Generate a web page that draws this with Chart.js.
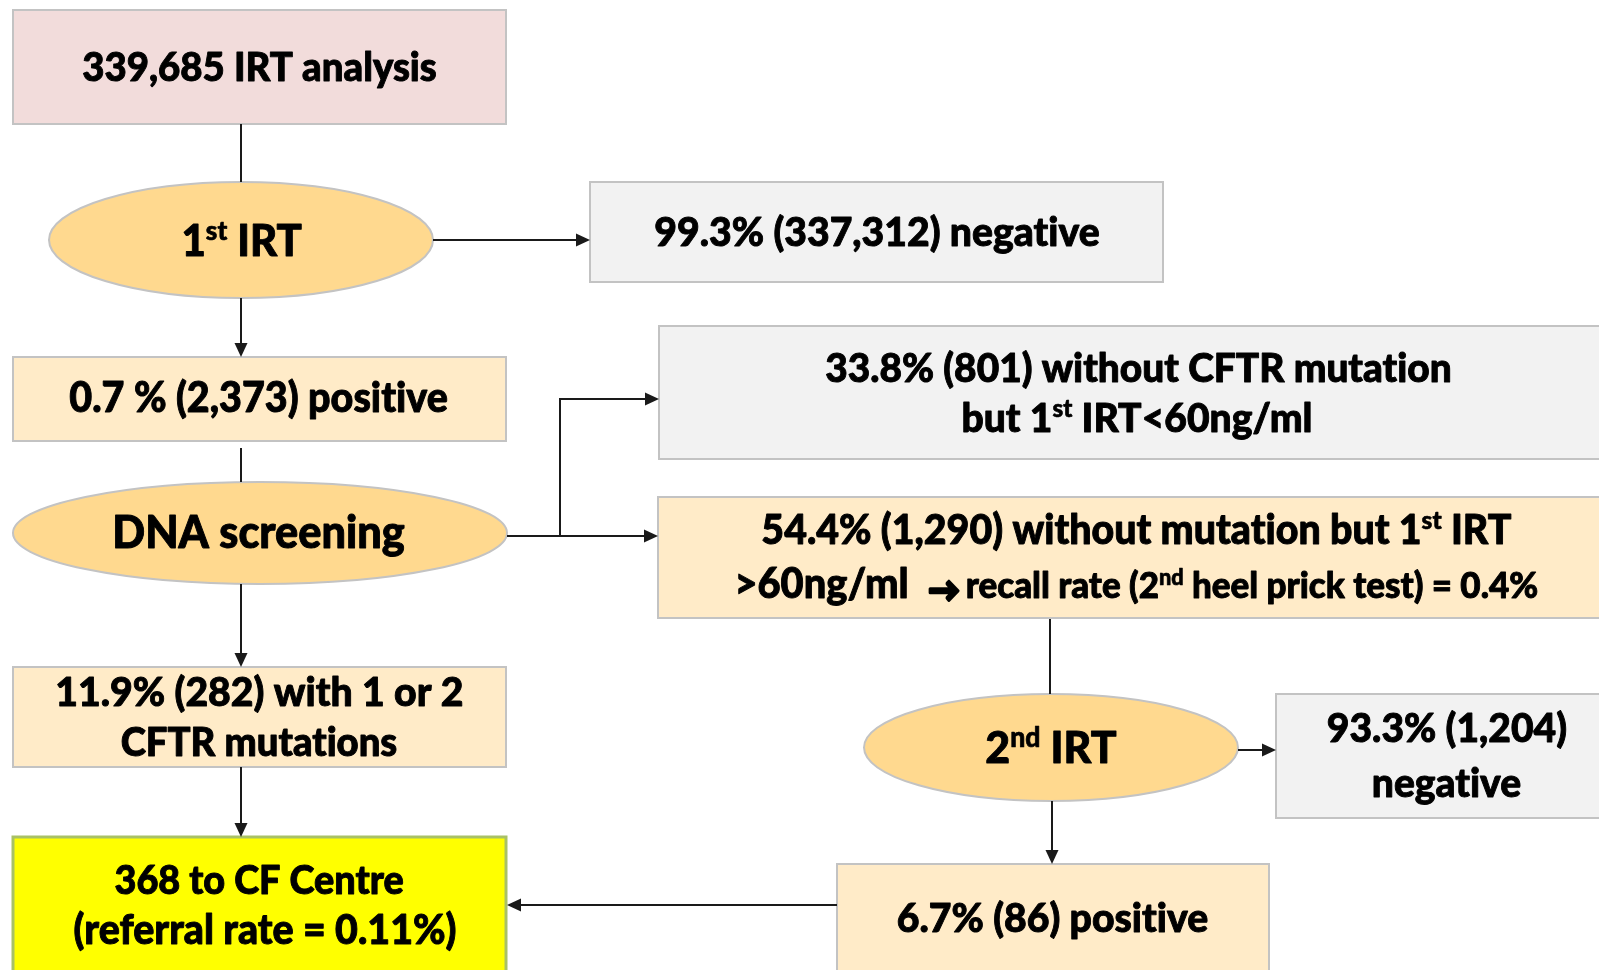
<!DOCTYPE html>
<html><head><meta charset="utf-8">
<script src="https://cdn.jsdelivr.net/npm/chart.js@4.4.1/dist/chart.umd.min.js"></script>
<style>html,body{margin:0;padding:0;background:#fff;overflow:hidden}#wrap{width:1599px;height:970px;position:relative}</style>
</head><body><div id="wrap"><canvas id="c"></canvas></div>
<script>
// ---------- data ----------
const screened = 339685;
const stageNames = ['1^st^ IRT', 'DNA screening', '2^nd^ IRT'];
const outcomePct = [99.3, 0.7, 33.8, 54.4, 11.9, 93.3, 6.7];
const outcomeN = [337312, 2373, 801, 1290, 282, 1204, 86];
const irtCutoff = 60;      // ng/ml
const recallRate = 0.4;    // %
const referred = 368;
const referralRate = 0.11; // %
const fmt = n => n.toLocaleString('en-US');

// text of each node (lines; ^..^ marks superscript)
const nodeText = [
  [`${fmt(screened)} IRT analysis`],
  [stageNames[0]],
  [`${outcomePct[0]}% (${fmt(outcomeN[0])}) negative`],
  [`${outcomePct[1]} % (${fmt(outcomeN[1])}) positive`],
  [stageNames[1]],
  [`${outcomePct[2]}% (${outcomeN[2]}) without CFTR mutation`, `but 1^st^ IRT<${irtCutoff}ng/ml`],
  [`${outcomePct[3]}% (${fmt(outcomeN[3])}) without mutation but 1^st^ IRT`, `>${irtCutoff}ng/ml`, '\u2192', `recall rate (2^nd^ heel prick test) = ${recallRate}%`],
  [`${outcomePct[4]}% (${outcomeN[4]}) with 1 or 2`, 'CFTR mutations'],
  [`${referred} to CF Centre`, `(referral rate = ${referralRate}%)`],
  [stageNames[2]],
  [`${outcomePct[5]}% (${fmt(outcomeN[5])})`, 'negative'],
  [`${outcomePct[6]}% (${outcomeN[6]}) positive`]
];

// ---------- layout (chart units) ----------
const C_PINK = '#F2DCDB', C_OVAL = '#FFD98F', C_PEACH = '#FFEBC8', C_GRAY = '#F2F2F2', C_YEL = '#FFFF00';
const layout = [
  {shape:'rect', x0:13, x1:506, y0:10, y1:124, fill:C_PINK, lines:[{cx:259.5, b:81, w:354}]},
  {shape:'oval', x0:49, x1:433, y0:182, y1:298, fill:C_OVAL, lines:[{cx:242.5, b:256, w:119}]},
  {shape:'rect', x0:590, x1:1163, y0:182, y1:282, fill:C_GRAY, lines:[{cx:877, b:246, w:445}]},
  {shape:'rect', x0:13, x1:506, y0:357, y1:441, fill:C_PEACH, lines:[{cx:258.5, b:411.7, w:379}]},
  {shape:'oval', x0:13, x1:507, y0:482, y1:584, fill:C_OVAL, lines:[{cx:260, b:548, w:290}]},
  {shape:'rect', x0:659, x1:1640, y0:326, y1:459, fill:C_GRAY, lines:[{cx:1138, b:381.7, w:625},{cx:1137, b:431.7, w:348}]},
  {shape:'rect', x0:658, x1:1640, y0:497, y1:618, fill:C_PEACH, lines:[{cx:1137, b:544, w:750},{cx:822.5, b:598, w:169},{cx:944, b:601, size:31, emb:3},{cx:1252.5, b:598, w:571}]},
  {shape:'rect', x0:13, x1:506, y0:667, y1:767, fill:C_PEACH, lines:[{cx:260, b:706, w:406},{cx:259, b:756, w:276}]},
  {shape:'rect', x0:13, x1:506, y0:837, y1:1010, fill:C_YEL, stroke:'#A9C165', lw:3, lines:[{cx:259.5, b:894, w:289},{cx:265, b:944, w:382}]},
  {shape:'oval', x0:864, x1:1238, y0:694, y1:801, fill:C_OVAL, lines:[{cx:1051.5, b:763, w:131}]},
  {shape:'rect', x0:1276, x1:1640, y0:694, y1:818, fill:C_GRAY, lines:[{cx:1447, b:741.7, w:239},{cx:1447, b:796.7, w:148}]},
  {shape:'rect', x0:837, x1:1269, y0:864, y1:1010, fill:C_PEACH, lines:[{cx:1052.5, b:931.7, w:311}]}
];
const edges = [
  {p:[[241,124],[241,182]], arrow:false},
  {p:[[433,240],[590,240]], arrow:true},
  {p:[[241,298],[241,357]], arrow:true},
  {p:[[241,448],[241,482]], arrow:false},
  {p:[[507,536],[560,536],[560,399],[659,399]], arrow:true},
  {p:[[507,536],[658,536]], arrow:true},
  {p:[[1050,619],[1050,694]], arrow:false},
  {p:[[1238,750],[1276,750]], arrow:true},
  {p:[[1052,801],[1052,864]], arrow:true},
  {p:[[837,905],[507,905]], arrow:true},
  {p:[[241,584],[241,667]], arrow:true},
  {p:[[241,767],[241,837]], arrow:true}
];

const FAMILY = 'Lato, "Open Sans", "DejaVu Sans", sans-serif';
const WEIGHT = 900;
const SUP = 0.62, RAISE = 0.36, VSTRETCH = 1.04, EMBOLDEN = 0.9;
const font = s => `${WEIGHT} ${s}px ${FAMILY}`;
const noLig = s => s.replace(/t(?=[ifl])/g, 't\u200C').replace(/f(?=[ifl])/g, 'f\u200C');

function parse(s){
  const parts=[]; const re=/\^([^^]*)\^/g; let last=0, m;
  while((m=re.exec(s))){ if(m.index>last) parts.push({t:s.slice(last,m.index),sup:false}); parts.push({t:m[1],sup:true}); last=re.lastIndex; }
  if(last<s.length) parts.push({t:s.slice(last),sup:false});
  return parts.map(p=>({t:noLig(p.t), sup:p.sup}));
}
function metrics(ctx, parts, size){
  let adv=0, left=0, right=0; const offs=[];
  parts.forEach((p,i)=>{
    ctx.font = font(p.sup? size*SUP : size);
    const m = ctx.measureText(p.t);
    if(i===0) left = -m.actualBoundingBoxLeft;
    offs.push(adv);
    if(i===parts.length-1) right = adv + m.actualBoundingBoxRight;
    adv += m.width;
  });
  return {left, right, ink:right-left, offs};
}

const flowPlugin = {
  id:'flow',
  afterDatasetsDraw(chart){
    const {ctx, scales:{x, y}} = chart;
    const X = v => x.getPixelForValue(v), Y = v => y.getPixelForValue(v);
    ctx.save();
    // shapes
    layout.forEach(n=>{
      const x0=X(n.x0), x1=X(n.x1), y0=Y(n.y0), y1=Y(n.y1);
      ctx.beginPath();
      if(n.shape==='rect') ctx.rect(x0,y0,x1-x0,y1-y0);
      else ctx.ellipse((x0+x1)/2,(y0+y1)/2,(x1-x0)/2,(y1-y0)/2,0,0,Math.PI*2);
      ctx.fillStyle=n.fill; ctx.fill();
      ctx.lineWidth=n.lw||2; ctx.strokeStyle=n.stroke||'#C3C3C3'; ctx.stroke();
    });
    // edges
    ctx.strokeStyle='#1A1A1A'; ctx.fillStyle='#1A1A1A'; ctx.lineWidth=2;
    edges.forEach(e=>{
      const pts=e.p.map(([a,b])=>[X(a),Y(b)]);
      const [ex,ey]=pts[pts.length-1], [sx,sy]=pts[pts.length-2];
      const ang=Math.atan2(ey-sy,ex-sx), L=14, H=6.5;
      ctx.beginPath(); ctx.moveTo(pts[0][0],pts[0][1]);
      for(let i=1;i<pts.length;i++){
        let [px,py]=pts[i];
        if(e.arrow && i===pts.length-1){ px-=Math.cos(ang)*L*0.8; py-=Math.sin(ang)*L*0.8; }
        ctx.lineTo(px,py);
      }
      ctx.stroke();
      if(e.arrow){
        ctx.beginPath(); ctx.moveTo(ex,ey);
        ctx.lineTo(ex-Math.cos(ang)*L-Math.sin(ang)*H, ey-Math.sin(ang)*L+Math.cos(ang)*H);
        ctx.lineTo(ex-Math.cos(ang)*L+Math.sin(ang)*H, ey-Math.sin(ang)*L-Math.cos(ang)*H);
        ctx.closePath(); ctx.fill();
      }
    });
    // text
    ctx.fillStyle='#000'; ctx.strokeStyle='#000'; ctx.lineJoin='round';
    ctx.textBaseline='alphabetic'; ctx.textAlign='left';
    layout.forEach((n,ni)=>{
      n.lines.forEach((ln,li)=>{
        const parts=parse(nodeText[ni][li]);
        const emb = ln.emb || EMBOLDEN;
        const base=40, m0=metrics(ctx,parts,base);
        const size = ln.size ? ln.size : base*(X(ln.w)-X(0)-emb)/m0.ink;
        const m=metrics(ctx,parts,size);
        const startX=X(ln.cx)-m.ink/2-m.left, by=Y(ln.b);
        ctx.save();
        ctx.translate(0, by); ctx.scale(1, VSTRETCH);
        parts.forEach((p,i)=>{
          const s=p.sup?size*SUP:size;
          ctx.font=font(s);
          const ty = p.sup? -size*RAISE : 0;
          ctx.lineWidth = p.sup ? emb*0.7 : emb;
          ctx.strokeText(p.t,startX+m.offs[i], ty);
          ctx.fillText(p.t,startX+m.offs[i], ty);
        });
        ctx.restore();
      });
    });
    ctx.restore();
  }
};

new Chart(document.getElementById('c'), {
  type:'scatter',
  data:{datasets:[{data:[], pointRadius:0}]},
  options:{
    responsive:true, maintainAspectRatio:false, animation:false,
    layout:{padding:0},
    plugins:{legend:{display:false}, tooltip:{enabled:false}},
    scales:{
      x:{type:'linear', min:0, max:1599, display:false},
      y:{type:'linear', min:0, max:970, reverse:true, display:false}
    }
  },
  plugins:[flowPlugin]
});
</script></body></html>
